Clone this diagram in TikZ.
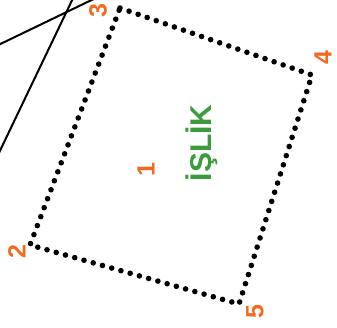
\documentclass[tikz,border=0pt]{standalone}
\usepackage{fontspec}
\setmainfont{Liberation Sans}

\tikzset{
  borderline/.style={line width=5.6pt, line cap=round, dash pattern=on 0pt off 9.6pt},
  numlabel/.style={text=numorange, font=\bfseries\fontsize{25}{25}\selectfont, rotate=90, inner sep=0pt},
  wordlabel/.style={text=wordgreen, font=\bfseries\fontsize{30}{30}\selectfont, rotate=90, inner sep=0pt}
}
\definecolor{numorange}{HTML}{F26A21}
\definecolor{wordgreen}{HTML}{3C9B3A}

\begin{document}
\begin{tikzpicture}[x=1pt, y=-1pt]

% Rahmen des Bildes
\useasboundingbox (0,0) rectangle (337,328);
\clip (0,0) rectangle (337,328);

% Eckpunkte des Grundstuecks
\coordinate (c2) at (30,245);
\coordinate (c3) at (120,8);
\coordinate (c4) at (312,75);
\coordinate (c5) at (239,304);

% Gepunktete Umrandung
\draw[borderline] (c3) -- (c4) -- (c5) -- (c2) -- cycle;

% Zwei Linien oben links
\coordinate (la1) at (-10,49);
\coordinate (la2) at (102,-5);
\coordinate (lb1) at (-3,157);
\coordinate (lb2) at (76,-8);
\draw[line width=2pt] (la1) -- (la2);
\draw[line width=2pt] (lb1) -- (lb2);

% Beschriftungen
\node[numlabel] (n1) at (146,170) {1};
\node[numlabel] (n2) at (17,252) {2};
\node[numlabel] (n3) at (98,11) {3};
\node[numlabel] (n4) at (323,58) {4};
\node[numlabel] (n5) at (255,312) {5};
\node[wordlabel] (islik) at (202,143) {İŞLİK};

\end{tikzpicture}
\end{document}
